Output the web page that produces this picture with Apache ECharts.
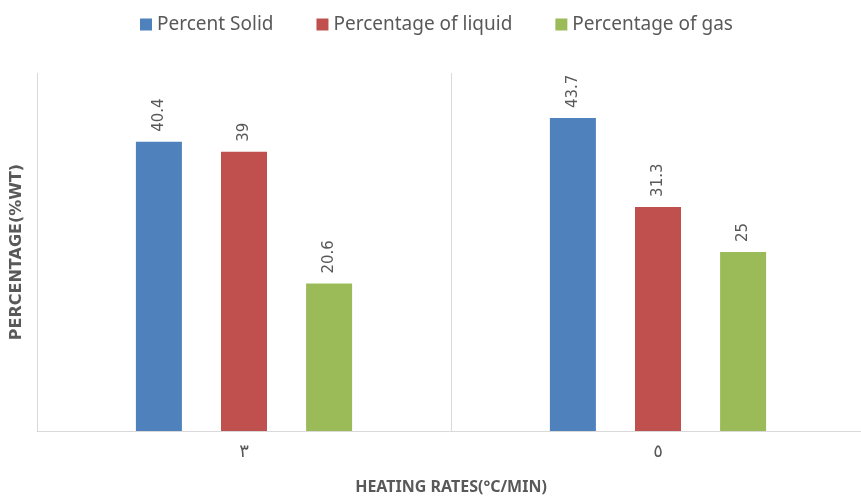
<!DOCTYPE html>
<html>
<head>
  <meta charset="utf-8">
  <style>
    body { margin: 0; background: #fff; }
    #container { width: 861px; height: 499px; }
  </style>
</head>
<body>
  <div id="container"></div>
  <script src="https://cdn.jsdelivr.net/npm/echarts@6/dist/echarts.min.js"></script>
  <script>
    // heating rates (Arabic-Indic digits as in the original)
    var categories = ['٣', '٥']
    var solid = [40.4, 43.7]
    var liquid = [39, 31.3]
    var gas = [20.6, 25]
    var seriesNames = ['Percent Solid', 'Percentage of liquid', 'Percentage of gas']
    var colors = ['#4f81bd', '#c0504d', '#9bbb59']

    var textColor = '#595959'
    var lineColor = '#d9d9d9'

    var chart = echarts.init(document.getElementById('container'), null, { renderer: 'canvas' })

    function makeSeries(name, data, color) {
      return {
        name: name,
        type: 'bar',
        data: data,
        barWidth: 46,
        barGap: '85%',
        itemStyle: { color: color },
        label: {
          show: true,
          position: 'top',
          rotate: 90,
          align: 'left',
          verticalAlign: 'middle',
          distance: 10,
          color: textColor,
          fontFamily: 'DejaVu Sans',
          fontSize: 15
        }
      }
    }

    var option = {
      animation: false,
      color: colors,
      legend: {
        top: 10,
        left: 135,
        itemWidth: 12,
        itemHeight: 12,
        itemGap: 43,
        icon: 'rect',
        textStyle: { color: textColor, fontFamily: 'Noto Sans', fontSize: 19 },
        data: seriesNames
      },
      grid: { left: 37, top: 73, width: 828, height: 358, outerBoundsMode: 'none' },
      xAxis: {
        type: 'category',
        data: categories,
        axisLine: { lineStyle: { color: lineColor } },
        axisTick: { show: false },
        axisLabel: { color: textColor, fontFamily: 'DejaVu Sans', fontSize: 18, margin: 12 },
        splitLine: { show: true, lineStyle: { color: lineColor } },
        name: 'HEATING RATES(°C/MIN)',
        nameLocation: 'middle',
        nameGap: 48,
        nameTextStyle: { color: textColor, fontFamily: 'Noto Sans', fontWeight: 'bold', fontSize: 16 }
      },
      yAxis: {
        type: 'value',
        min: 0,
        max: 50,
        axisLine: { show: false },
        axisTick: { show: false },
        axisLabel: { show: false },
        splitLine: { show: false },
        name: 'PERCENTAGE(%WT)',
        nameLocation: 'middle',
        nameGap: 12,
        nameTextStyle: { color: textColor, fontFamily: 'DejaVu Sans', fontWeight: 'bold', fontSize: 16 }
      },
      series: [
        makeSeries(seriesNames[0], solid, colors[0]),
        makeSeries(seriesNames[1], liquid, colors[1]),
        makeSeries(seriesNames[2], gas, colors[2])
      ]
    }

    chart.setOption(option)
    window.addEventListener('resize', chart.resize)
  </script>
</body>
</html>
